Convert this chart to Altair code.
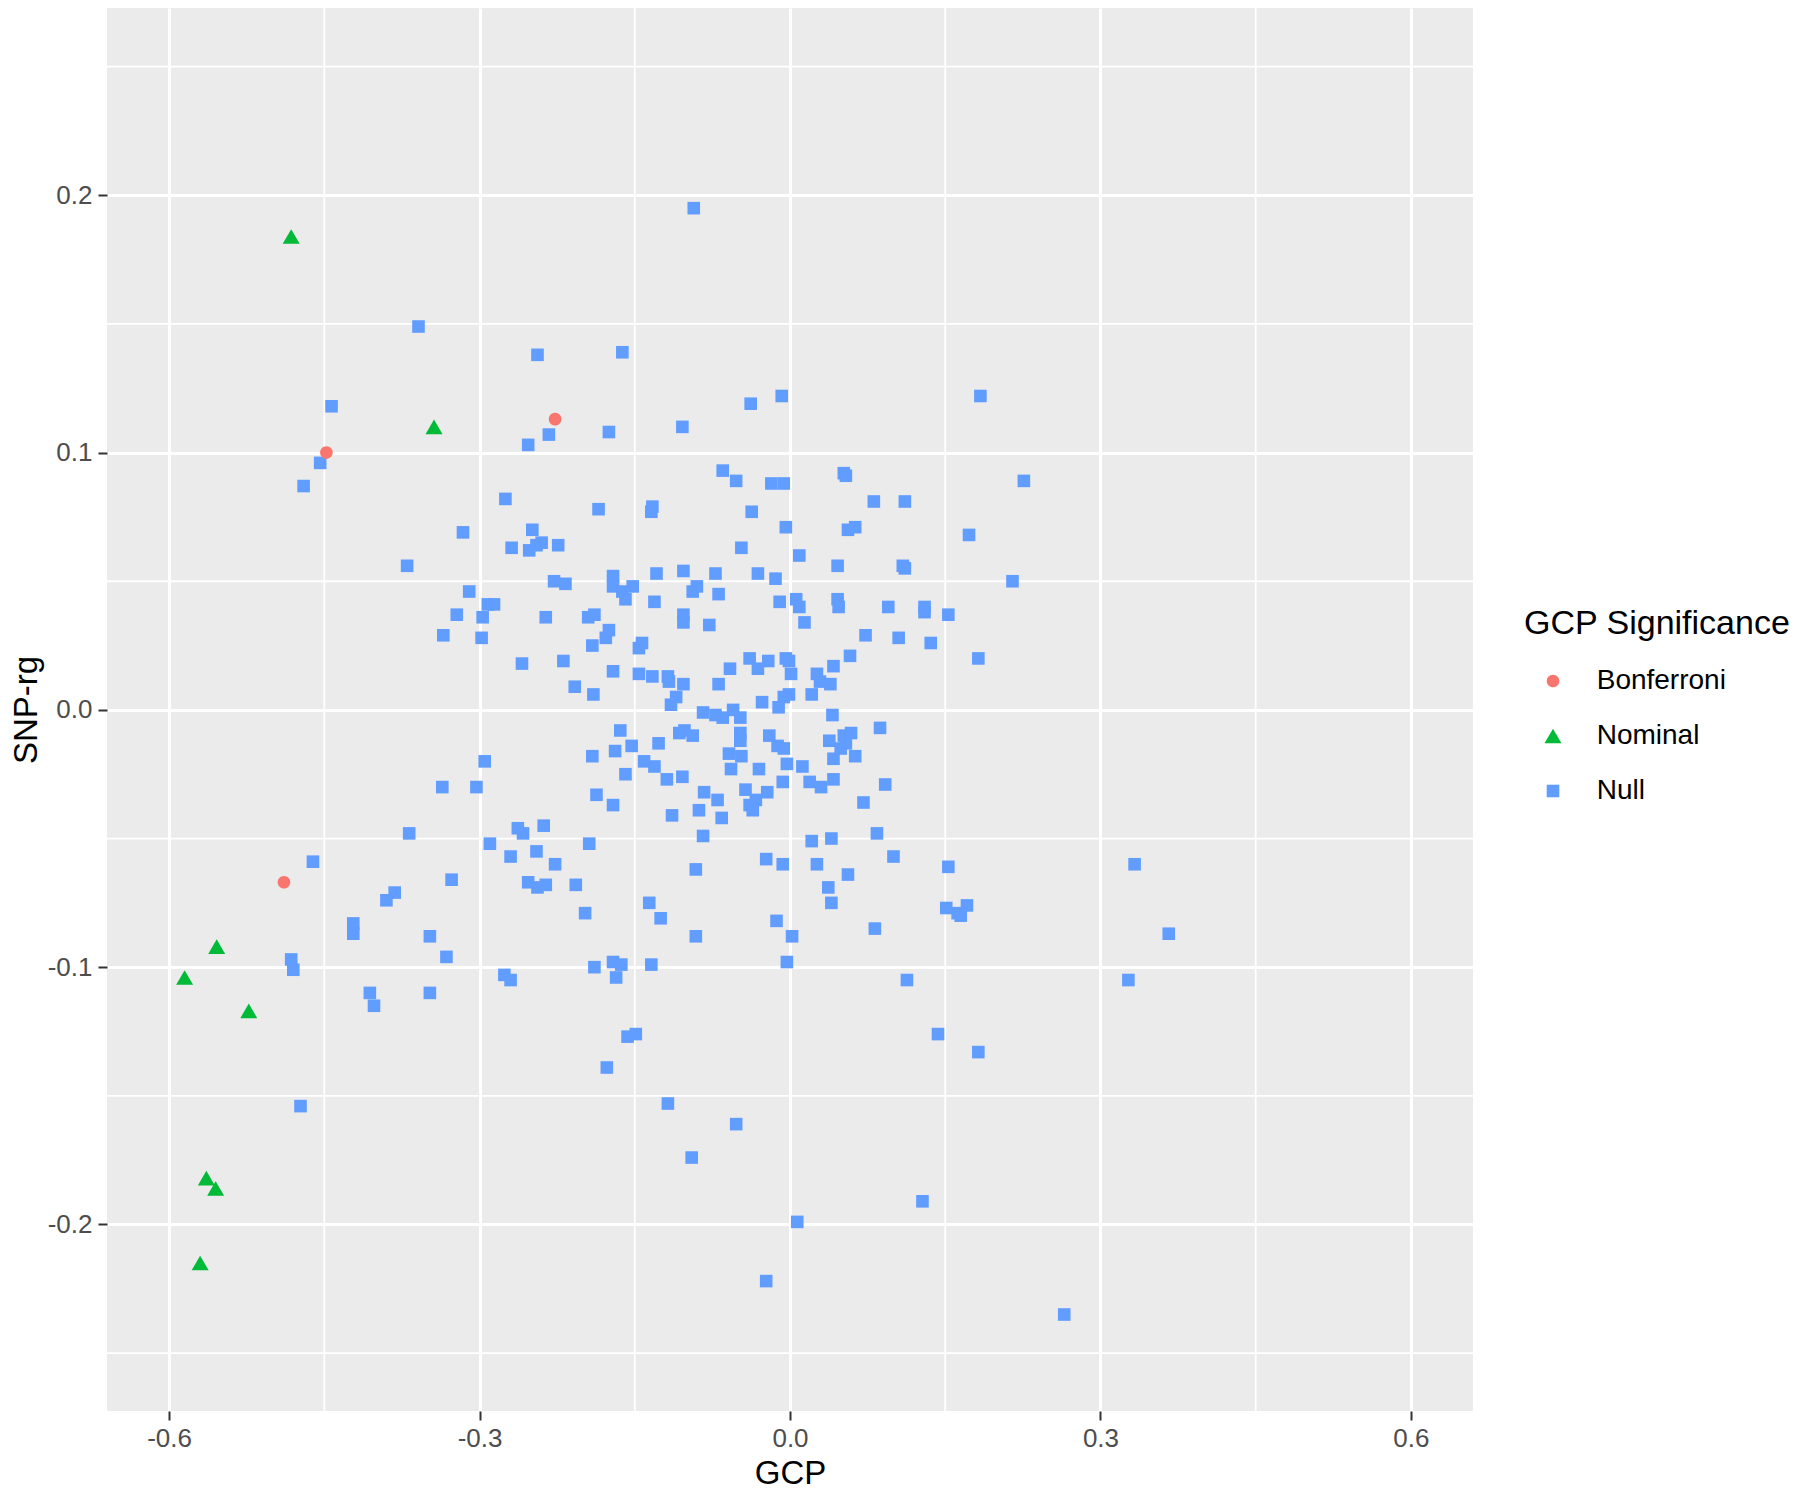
import altair as alt
import pandas as pd

categories = ["Bonferroni", "Nominal", "Null"]
colors = ["#F8766D", "#00BA38", "#619CFF"]
# symbol outlines in the unit box (-1..1); one common symbol size scales them
shapes = [
    "M0.63,0A0.63,0.63,0,1,1,-0.63,0A0.63,0.63,0,1,1,0.63,0Z",
    "M0,-0.73L0.85,0.73L-0.85,0.73Z",
    "M-0.63,-0.63L0.63,-0.63L0.63,0.63L-0.63,0.63Z",
]
SYMBOL_SIZE = 400

gcp_bonf = [-0.227, -0.448, -0.489]
rg_bonf = [0.113, 0.100, -0.067]

gcp_nominal = [-0.482, -0.344, -0.585, -0.554, -0.523, -0.564, -0.555, -0.570]
rg_nominal = [0.184, 0.110, -0.104, -0.092, -0.117, -0.182, -0.186, -0.215]

gcp_null = [
    -0.359, -0.244, -0.443, -0.233, -0.253, -0.454, -0.470, -0.275, -0.316, -0.249,
    -0.240, -0.245, -0.252, -0.269, -0.224, -0.370, -0.093, -0.162, -0.008, -0.038,
    0.184, -0.175, -0.104, -0.065, -0.052, -0.018, -0.006, 0.052, 0.054, 0.081,
    0.111, -0.185, -0.133, -0.134, -0.037, -0.004, 0.056, 0.063, 0.173, -0.047,
    0.009, 0.046, 0.109, 0.111, 0.226, 0.215, 0.333, 0.366, 0.327, 0.265,
    -0.189, -0.168, -0.171, -0.163, -0.134, -0.003, 0.113, -0.157, -0.149, -0.177,
    0.143, 0.182, -0.118, -0.052, -0.095, 0.128, 0.007, -0.023,
    -0.482, -0.480, -0.406, -0.402, -0.348, -0.276, -0.270, -0.473, -0.332,
    -0.228, -0.217, -0.310, -0.292, -0.286, -0.322, -0.297, -0.236, -0.335, -0.298,
    -0.259, -0.219, -0.295, -0.336, -0.303, -0.368, -0.263, -0.258, -0.238, -0.290,
    -0.270, -0.245, -0.227, -0.461, -0.327, -0.253, -0.244, -0.236, -0.382, -0.390,
    -0.422, -0.422, -0.348,
    -0.171, -0.171, -0.162, -0.152, -0.159, -0.129, -0.103, -0.072, -0.031, -0.014,
    -0.090, -0.094, -0.069, -0.131, -0.010, 0.006, 0.009, 0.046, 0.047, 0.095,
    0.130, 0.130, 0.153, -0.195, -0.189, -0.103, -0.103, -0.078, 0.014, -0.175,
    -0.178, 0.073, 0.105, 0.136, -0.191, -0.143, -0.146, 0.058, 0.182, -0.039,
    -0.021, -0.031, -0.004, -0.001, 0.001, -0.058, 0.042, -0.171, -0.146, -0.133,
    -0.118, -0.117, -0.103, -0.069, 0.026, 0.029, 0.039, 0.021, -0.208, -0.190,
    -0.110, -0.115, -0.027, -0.001, -0.006, -0.011, 0.041, -0.084, -0.072, -0.065,
    -0.055, -0.048, -0.164, -0.107, -0.102, -0.094, -0.048, -0.048, -0.020, -0.012,
    -0.006, 0.087, 0.038, 0.059, 0.052, 0.054, 0.049, -0.153, -0.127, -0.191,
    -0.169, -0.059, -0.047, 0.042, 0.063, -0.141, -0.131, -0.057, -0.030, -0.003,
    0.012, -0.159, -0.119, -0.104, -0.007, 0.019, 0.030, 0.042, 0.092, -0.187,
    -0.171, -0.083, -0.070, -0.043, -0.022, -0.033, -0.039, -0.036, 0.071, -0.114,
    -0.088, -0.066, -0.084, -0.194, 0.021, 0.040, 0.084, -0.023, -0.007, 0.026,
    0.100, -0.091, 0.056, 0.153, -0.207, 0.037, 0.040, -0.136, -0.125, -0.198,
    -0.013, 0.002, -0.091, 0.082, 0.151, 0.162, 0.165, 0.171,
]
rg_null = [
    0.149, 0.138, 0.118, 0.107, 0.103, 0.096, 0.087, 0.082, 0.069, 0.070,
    0.065, 0.064, 0.062, 0.063, 0.064, 0.056, 0.195, 0.139, 0.122, 0.119,
    0.122, 0.108, 0.110, 0.093, 0.089, 0.088, 0.088, 0.092, 0.091, 0.081,
    0.081, 0.078, 0.079, 0.077, 0.077, 0.071, 0.070, 0.071, 0.068, 0.063,
    0.060, 0.056, 0.056, 0.055, 0.089, 0.050, -0.060, -0.087, -0.105, -0.235,
    -0.100, -0.104, -0.098, -0.099, -0.099, -0.098, -0.105, -0.127, -0.126, -0.139,
    -0.126, -0.133, -0.153, -0.161, -0.174, -0.191, -0.199, -0.222,
    -0.097, -0.101, -0.110, -0.115, -0.110, -0.103, -0.105, -0.154, -0.096,
    0.050, 0.049, 0.046, 0.041, 0.041, 0.037, 0.036, 0.036, 0.029, 0.028,
    0.018, 0.019, -0.020, -0.030, -0.030, -0.048, -0.046, -0.048, -0.045, -0.052,
    -0.057, -0.055, -0.060, -0.059, -0.066, -0.067, -0.069, -0.068, -0.071, -0.074,
    -0.083, -0.087, -0.088,
    0.052, 0.048, 0.046, 0.048, 0.043, 0.053, 0.054, 0.053, 0.053, 0.051,
    0.048, 0.046, 0.045, 0.042, 0.042, 0.043, 0.040, 0.043, 0.040, 0.040,
    0.040, 0.038, 0.037, 0.036, 0.037, 0.037, 0.034, 0.033, 0.034, 0.031,
    0.028, 0.029, 0.028, 0.026, 0.025, 0.026, 0.024, 0.021, 0.020, 0.020,
    0.019, 0.016, 0.020, 0.019, 0.014, 0.016, 0.017, 0.015, 0.014, 0.013,
    0.013, 0.011, 0.010, 0.010, 0.014, 0.011, 0.010, 0.006, 0.009, 0.006,
    0.005, 0.002, 0.003, 0.006, 0.005, 0.001, -0.002, -0.001, -0.002, -0.003,
    0.000, -0.003, -0.008, -0.009, -0.008, -0.010, -0.009, -0.012, -0.010, -0.014,
    -0.015, -0.007, -0.012, -0.009, -0.010, -0.013, -0.015, -0.014, -0.013, -0.018,
    -0.016, -0.017, -0.018, -0.019, -0.018, -0.020, -0.022, -0.023, -0.023, -0.021,
    -0.022, -0.025, -0.027, -0.026, -0.028, -0.028, -0.030, -0.027, -0.029, -0.033,
    -0.037, -0.032, -0.035, -0.031, -0.032, -0.035, -0.037, -0.039, -0.036, -0.041,
    -0.039, -0.042, -0.049, -0.052, -0.051, -0.050, -0.048, -0.058, -0.060, -0.060,
    -0.057, -0.062, -0.064, -0.061, -0.068, -0.069, -0.075, -0.075, -0.081, -0.079,
    -0.082, -0.088, -0.088, -0.085, -0.077, -0.079, -0.080, -0.076,
]

x_ticks = [-0.6, -0.3, 0.0, 0.3, 0.6]
x_minor = [-0.45, -0.15, 0.15, 0.45]
y_ticks = [-0.2, -0.1, 0.0, 0.1, 0.2]
y_minor = [-0.25, -0.15, -0.05, 0.05, 0.15, 0.25]

df = pd.concat([
    pd.DataFrame({"gcp": gcp_null, "rg": rg_null, "sig": "Null"}),
    pd.DataFrame({"gcp": gcp_nominal, "rg": rg_nominal, "sig": "Nominal"}),
    pd.DataFrame({"gcp": gcp_bonf, "rg": rg_bonf, "sig": "Bonferroni"}),
], ignore_index=True)

FONT = "Liberation Sans, Arial, Helvetica, sans-serif"
W, H = 1366, 1403

x_scale = alt.Scale(domain=[-0.66, 0.66], nice=False, zero=False)
y_scale = alt.Scale(domain=[-0.2725, 0.2728], nice=False, zero=False)

lbl = "datum.value < 0 ? '-' + format(-datum.value, '.1f') : format(datum.value, '.1f')"

common_axis = dict(
    grid=True, gridColor="white", gridWidth=3, domain=False,
    ticks=True, tickColor="#333333", tickWidth=2, tickSize=9,
    labelColor="#4D4D4D", labelFontSize=26, labelFont=FONT,
    titleFontSize=33, titleFontWeight="normal", titleColor="black", titleFont=FONT,
    labelExpr=lbl,
)

x_axis = alt.Axis(values=x_ticks, labelPadding=5, titleY=72,
                  titleBaseline="alphabetic", **common_axis)
y_axis = alt.Axis(values=y_ticks, labelPadding=6, titleX=-71, titleAngle=270,
                  titleBaseline="alphabetic", titleAlign="center", **common_axis)

legend = alt.Legend(
    title="GCP Significance", orient="none", legendX=1417, legendY=599,
    titleFontSize=34, titleFontWeight="normal", titleColor="black", titleFont=FONT,
    titleBaseline="top", titleAnchor="start", titlePadding=26, titleLimit=600,
    labelFontSize=28, labelFont=FONT, labelColor="black", labelLimit=400,
    rowPadding=27, symbolOffset=15, labelOffset=29.7, padding=0,
    symbolSize=SYMBOL_SIZE, symbolStrokeWidth=0,
)

vminor = alt.Chart(pd.DataFrame({"gcp": x_minor})).mark_rule(
    color="white", strokeWidth=1.8
).encode(x=alt.X("gcp:Q", scale=x_scale, title="GCP", axis=x_axis))

hminor = alt.Chart(pd.DataFrame({"rg": y_minor})).mark_rule(
    color="white", strokeWidth=1.8
).encode(y=alt.Y("rg:Q", scale=y_scale, title="SNP-rg", axis=y_axis))

points = alt.Chart(df).mark_point(filled=True, opacity=1, size=SYMBOL_SIZE).encode(
    x=alt.X("gcp:Q", scale=x_scale, title="GCP", axis=x_axis),
    y=alt.Y("rg:Q", scale=y_scale, title="SNP-rg", axis=y_axis),
    color=alt.Color("sig:N", scale=alt.Scale(domain=categories, range=colors),
                    title="GCP Significance", legend=legend),
    shape=alt.Shape("sig:N", scale=alt.Scale(domain=categories, range=shapes),
                    title="GCP Significance", legend=legend),
)

chart = alt.layer(vminor, hminor, points).properties(
    width=W, height=H,
    autosize=alt.AutoSizeParams(type="none"),
    padding={"left": 99, "top": 0, "right": 319, "bottom": 79},
    background="white",
).configure_view(fill="#EBEBEB", strokeWidth=0)

chart.save("out.html", embed_options={"renderer": "svg", "actions": False})
